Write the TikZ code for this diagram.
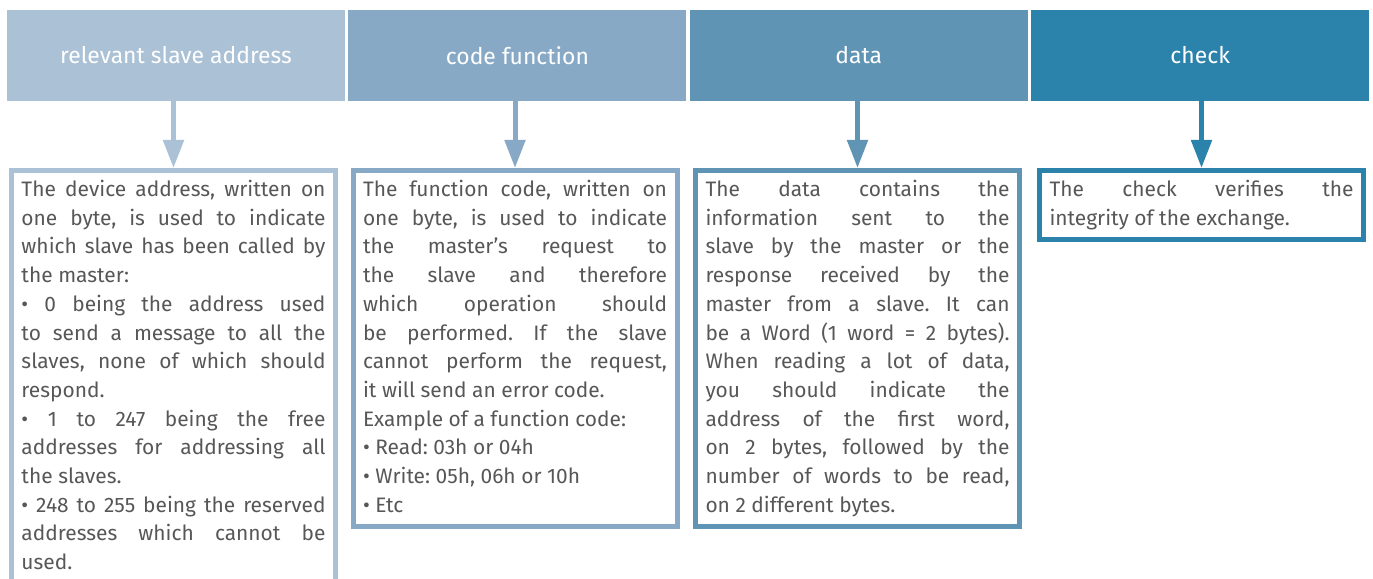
\documentclass[tikz,border=0pt]{standalone}
\usepackage{fontspec}
\setmainfont{Fira Sans}
\usetikzlibrary{arrows.meta,positioning}
\definecolor{addrblue}{HTML}{ABC1D6}
\definecolor{funcblue}{HTML}{87A9C5}
\definecolor{datablue}{HTML}{6094B5}
\definecolor{checkblue}{HTML}{2B83AB}
\definecolor{textgray}{HTML}{575757}
\hyphenpenalty=10000
\exhyphenpenalty=10000
\frenchspacing

\tikzset{
  field/.style={fill=#1, minimum width=338bp, minimum height=91bp, inner sep=0pt,
    text=white, font=\fontsize{23}{26}\selectfont},
  infobox/.style={draw=#1, line width=5bp, fill=white, text width=304bp,
    inner xsep=10bp, inner ysep=6bp, align=justify, anchor=north,
    text=textgray, font=\fontsize{21}{28.8}\selectfont},
  fieldarrow/.style={draw=#1, line width=5bp, -{Triangle[length=28bp,width=20bp]}}
}

\begin{document}
\begin{tikzpicture}[x=1bp, y=-1bp]
    \useasboundingbox (0,0) rectangle (1373,579);

    % Trame
    \node[field=addrblue] (addr) at (176,55.5) {relevant slave address};
    \node[field=funcblue, right=3bp of addr] (func) {code function};
    \node[field=datablue, right=3bp of func] (data) {data};
    \node[field=checkblue, right=3bp of data] (check) {check};

    % Adresse
    \node[infobox=addrblue] (addrtxt) at (173.5,168) {\strut The device address, written on\linebreak
      one byte, is used to indicate\linebreak
      which slave has been called by\linebreak
      the master:\\
      • 0 being the address used\linebreak
      to send a message to all the\linebreak
      slaves, none of which should\linebreak
      respond.\\
      • 1 to 247 being the free\linebreak
      addresses for addressing all\linebreak
      the slaves.\\
      • 248 to 255 being the reserved\linebreak
      addresses which cannot be\linebreak
      used.\strut};
    \draw[fieldarrow=addrblue] (addrtxt.north |- addr.south) -- (addrtxt.north);

    % Fonction
    \node[infobox=funcblue] (functxt) at (515,168) {\strut The function code, written on\linebreak
      one byte, is used to indicate\linebreak
      the master's request to\linebreak
      the slave and therefore\linebreak
      which operation should\linebreak
      be performed. If the slave\linebreak
      cannot perform the request,\linebreak
      it will send an error code.\\
      Example of a function code:\\
      • Read: 03h or 04h\\
      • Write: 05h, 06h or 10h\\
      • Etc\strut};
    \draw[fieldarrow=funcblue] (functxt.north |- func.south) -- (functxt.north);

    % Donnees
    \node[infobox=datablue] (datatxt) at (857.5,168) {\strut The data contains the\linebreak
      information sent to the\linebreak
      slave by the master or the\linebreak
      response received by the\linebreak
      master from a slave. It can\linebreak
      be a Word (1 word = 2 bytes).\linebreak
      When reading a lot of data,\linebreak
      you should indicate the\linebreak
      address of the first word,\linebreak
      on 2 bytes, followed by the\linebreak
      number of words to be read,\linebreak
      on 2 different bytes.\strut};
    \draw[fieldarrow=datablue] (datatxt.north |- data.south) -- (datatxt.north);

    % Controle
    \node[infobox=checkblue] (checktxt) at (1201.5,168) {\strut The check verifies the\linebreak
      integrity of the exchange.\strut};
    \draw[fieldarrow=checkblue] (checktxt.north |- check.south) -- (checktxt.north);
\end{tikzpicture}
\end{document}
